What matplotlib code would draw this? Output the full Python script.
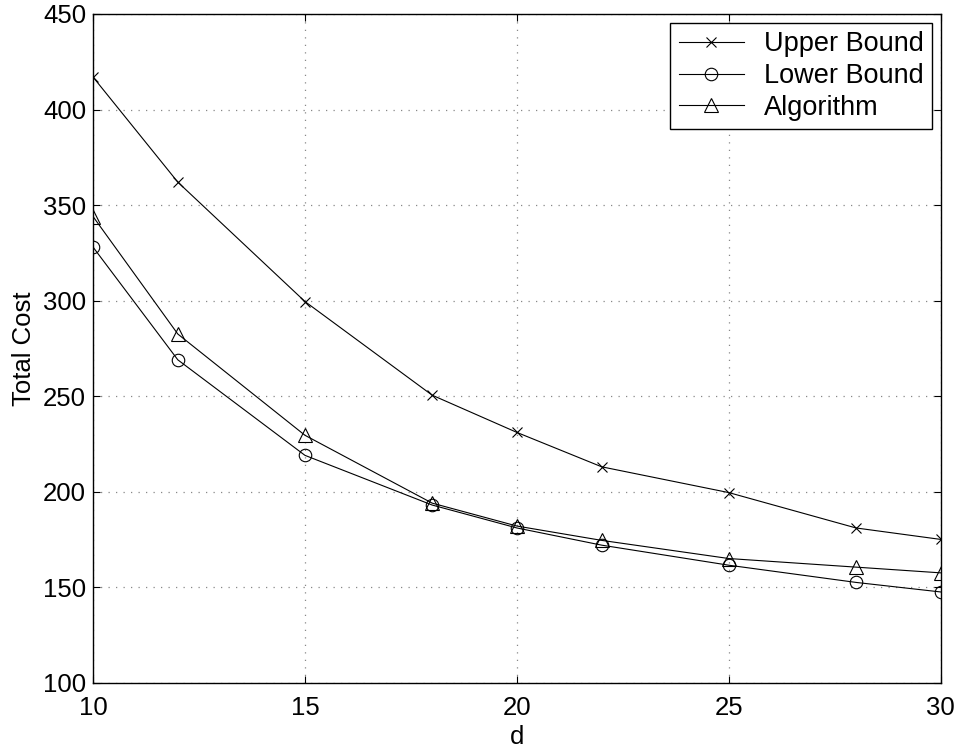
import matplotlib
matplotlib.use('Agg')
import matplotlib.pyplot as plt

plt.rcParams['font.family'] = ['Liberation Sans', 'DejaVu Sans']

# d values and costs
d = [10, 12, 15, 18, 20, 22, 25, 28, 30]
upper = [417, 362, 299.5, 250.5, 231, 213, 199.5, 181, 175]
lower = [328, 269, 219, 193, 181, 172, 161.5, 152.5, 147.5]
algo = [344, 282.5, 229.5, 194, 182, 174.5, 165, 160.5, 157.5]

fig = plt.figure(figsize=(9.61, 7.51), dpi=100)
ax = fig.add_axes([0.0968, 0.0909, 0.979 - 0.0968, 0.9814 - 0.0909])

kw = dict(color='black', lw=0.8, mfc='none', mec='black', mew=0.8)
ax.plot(d, upper, marker='x', ms=7, label='Upper Bound', **kw)
ax.plot(d, lower, marker='o', ms=9, label='Lower Bound', **kw)
ax.plot(d, algo, marker='^', ms=10, label='Algorithm', **kw)

ax.set_xlim(10, 30)
ax.set_ylim(100, 450)
ax.set_xticks([10, 15, 20, 25, 30])
ax.set_yticks(range(100, 451, 50))

ax.grid(True, color='#888888', linestyle=(0, (1, 5)), lw=0.9)
ax.tick_params(direction='in', length=5, width=0.8, top=True, right=True,
               labelsize=18.5)
ax.tick_params(axis='x', pad=9.5)
ax.tick_params(axis='y', pad=5)
for s in ax.spines.values():
    s.set_linewidth(1.0)

ax.set_xlabel('d', fontsize=18.5, labelpad=4)
ax.set_ylabel('Total Cost', fontsize=18.5, labelpad=5)

leg = ax.legend(loc='upper right', fontsize=19.5, fancybox=False,
                framealpha=1, edgecolor='black', borderaxespad=0.33,
                handlelength=2.4, handletextpad=0.75, labelspacing=0.22,
                borderpad=0.3)
leg.get_frame().set_linewidth(1.0)

fig.savefig('out.png', dpi=100)
